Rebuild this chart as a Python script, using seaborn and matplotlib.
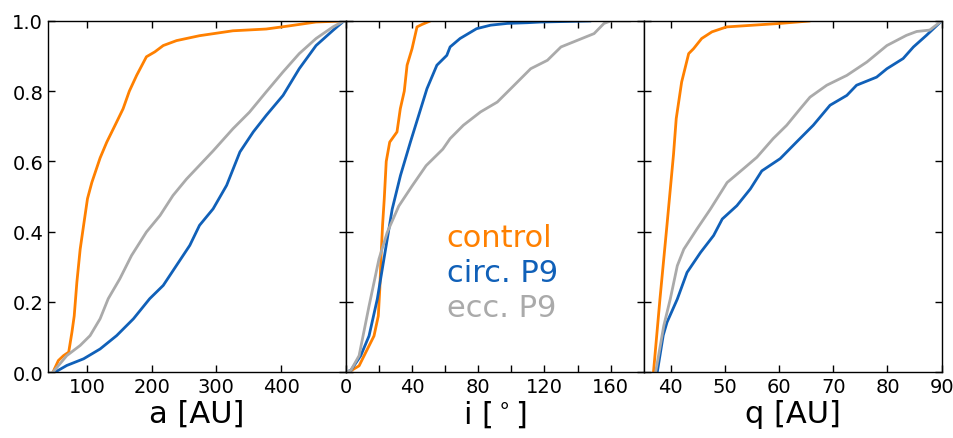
import numpy as np
import pandas as pd
import matplotlib
matplotlib.use("Agg")
import matplotlib.pyplot as plt
import seaborn as sns

# ---------------- data ----------------
series_names = ["control", "circ. P9", "ecc. P9"]
series_colors = ["#ff8000", "#1060b8", "#aaaaaa"]

# Panel a [AU]: (x, cumulative fraction)
a_control_x = [47.7, 56, 64, 72, 77, 80.5, 84.6, 89.7, 95, 101, 107.7, 120.5, 130.8, 143.6, 156, 165.6, 176.9, 192, 205, 218, 238.5, 274, 325.6, 377, 412.8, 453.8, 497.4]
a_control_y = [0, 0.033, 0.047, 0.057, 0.114, 0.16, 0.256, 0.35, 0.418, 0.494, 0.54, 0.61, 0.655, 0.703, 0.75, 0.8, 0.845, 0.898, 0.912, 0.93, 0.944, 0.958, 0.972, 0.977, 0.986, 0.997, 1.0]
a_circ_x = [51, 69, 95, 120.5, 146, 172, 197, 218, 238.5, 259, 274, 295, 315.9, 336.4, 357, 377, 403, 428, 454, 480, 497]
a_circ_y = [0, 0.019, 0.038, 0.066, 0.104, 0.152, 0.209, 0.247, 0.304, 0.361, 0.418, 0.465, 0.532, 0.627, 0.684, 0.731, 0.788, 0.864, 0.93, 0.973, 1.0]
a_ecc_x = [47.7, 69, 89.7, 105, 120.5, 133, 151, 169, 192, 213, 233, 254, 274, 295, 325.6, 351, 377, 403, 428, 454, 480, 497]
a_ecc_y = [0, 0.047, 0.076, 0.104, 0.152, 0.209, 0.266, 0.332, 0.399, 0.446, 0.503, 0.55, 0.589, 0.63, 0.693, 0.74, 0.798, 0.855, 0.907, 0.95, 0.983, 1.0]

# Panel i [deg]
i_control_x = [1, 3, 8, 12, 17, 19.6, 20.5, 21.2, 22.2, 23.2, 24.4, 26.5, 30.9, 32.9, 35.3, 37, 40, 43, 46, 51]
i_control_y = [0, 0.004, 0.018, 0.056, 0.103, 0.16, 0.236, 0.322, 0.42, 0.493, 0.6, 0.655, 0.684, 0.75, 0.8, 0.874, 0.921, 0.983, 0.99, 1.0]
i_circ_x = [0, 3, 9, 14, 19, 23, 28, 33, 39, 44, 49, 55, 61, 63, 69, 79, 87.5, 97.6, 109.7, 117.8, 148]
i_circ_y = [0, 0.005, 0.047, 0.103, 0.208, 0.322, 0.464, 0.56, 0.655, 0.731, 0.807, 0.874, 0.902, 0.926, 0.95, 0.978, 0.988, 0.993, 0.995, 0.997, 1.0]
i_ecc_x = [0, 3, 8, 14, 20, 25, 32, 40, 48.5, 58.6, 63, 71, 81.4, 91.5, 99.6, 111.7, 121.8, 130, 140, 150, 156, 160, 172]
i_ecc_y = [0, 0.005, 0.047, 0.188, 0.322, 0.398, 0.473, 0.53, 0.588, 0.635, 0.665, 0.703, 0.741, 0.769, 0.807, 0.864, 0.888, 0.926, 0.945, 0.964, 0.993, 1.0, 1.0]

# Panel q [AU]
q_control_x = [36.8, 38, 39.3, 40.5, 41, 42, 43.3, 44.2, 45.7, 47.6, 50.3, 60.2, 65.7]
q_control_y = [0, 0.209, 0.42, 0.62, 0.722, 0.826, 0.907, 0.921, 0.95, 0.969, 0.983, 0.993, 1.0]
q_circ_x = [37.5, 38.6, 39.3, 41.2, 43, 45.5, 47.9, 49.5, 52.2, 54.7, 56.8, 60.2, 63.2, 66.3, 69.4, 72.5, 74.3, 78, 79.9, 82.9, 84.8, 87.2, 90]
q_circ_y = [0, 0.105, 0.142, 0.208, 0.284, 0.341, 0.389, 0.436, 0.474, 0.522, 0.573, 0.608, 0.655, 0.703, 0.76, 0.788, 0.817, 0.84, 0.864, 0.893, 0.926, 0.959, 1.0]
q_ecc_x = [37.2, 38.7, 39.9, 41.2, 42.4, 44.8, 47.3, 50.4, 53.4, 55.9, 58.9, 61.4, 63.9, 65.7, 68.8, 72.5, 76.2, 79.9, 83.5, 85.4, 87.8, 90]
q_ecc_y = [0, 0.132, 0.208, 0.303, 0.35, 0.407, 0.464, 0.54, 0.579, 0.612, 0.665, 0.703, 0.75, 0.783, 0.817, 0.845, 0.883, 0.93, 0.959, 0.97, 0.974, 1.0]

x_labels = ["a [AU]", r"i [$^\circ$]", "q [AU]"]
a_ticks = [100, 200, 300, 400]
i_ticks = [0, 20, 40, 60, 80, 100, 120, 140, 160]
i_ticklabels = ["0", "", "40", "", "80", "", "120", "", "160"]
q_ticks = [40, 50, 60, 70, 80, 90]
y_ticks = [0.0, 0.2, 0.4, 0.6, 0.8, 1.0]

# ---------------- build long tables ----------------
def make_df(xs, ys):
    frames = []
    for name, x, y in zip(series_names, xs, ys):
        frames.append(pd.DataFrame({"x": x, "y": y, "series": name}))
    return pd.concat(frames, ignore_index=True)

panels = [
    make_df([a_control_x, a_circ_x, a_ecc_x], [a_control_y, a_circ_y, a_ecc_y]),
    make_df([i_control_x, i_circ_x, i_ecc_x], [i_control_y, i_circ_y, i_ecc_y]),
    make_df([q_control_x, q_circ_x, q_ecc_x], [q_control_y, q_circ_y, q_ecc_y]),
]
xlims = [(40, 500), (0, 180), (35, 90)]

# ---------------- style ----------------
sns.set_style("ticks")
plt.rcParams["font.family"] = ["DejaVu Sans"]
plt.rcParams.update({
    "xtick.direction": "in", "ytick.direction": "in",
    "xtick.top": True, "ytick.right": True,
    "xtick.major.size": 5, "ytick.major.size": 5,
    "axes.edgecolor": "black", "axes.linewidth": 1.0,
    "xtick.color": "black", "ytick.color": "black",
    "xtick.labelcolor": "black", "ytick.labelcolor": "black",
    "axes.labelcolor": "black", "text.color": "black",
})

fig, axes = plt.subplots(1, 3, figsize=(9.54, 4.39), dpi=100, sharey=True)
fig.subplots_adjust(left=0.0503, right=0.987, top=0.95, bottom=0.150, wspace=0)

palette = dict(zip(series_names, series_colors))
for k, (ax, df) in enumerate(zip(axes, panels)):
    sns.lineplot(data=df, x="x", y="y", hue="series", palette=palette,
                 estimator=None, sort=False, lw=2.0, legend=False, ax=ax)
    ax.set_xlim(*xlims[k])
    ax.set_ylim(0, 1)
    ax.set_xlabel(x_labels[k], fontsize=22, labelpad=2, color="black")
    ax.set_ylabel("")
    ax.tick_params(axis="both", labelsize=14, width=1.0, colors="black")
    for sp in ax.spines.values():
        sp.set_visible(True)
        sp.set_color("black")

axes[0].set_xticks(a_ticks)
axes[1].set_xticks(i_ticks)
axes[1].set_xticklabels(i_ticklabels)
axes[2].set_xticks(q_ticks)
axes[0].set_yticks(y_ticks)
axes[0].set_yticklabels([f"{v:.1f}" for v in y_ticks])

for j, (name, col) in enumerate(zip(series_names, series_colors)):
    axes[1].text(61, 0.36 - 0.10 * j, name, color=col, fontsize=22,
                 ha="left", va="baseline")

fig.savefig("out.png", dpi=100)
